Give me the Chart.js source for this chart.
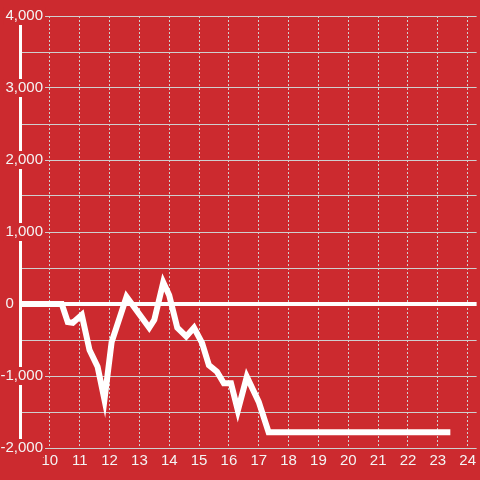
<!DOCTYPE html>
<html>
<head>
<meta charset="utf-8">
<script src="https://cdn.jsdelivr.net/npm/chart.js@4"></script>
<style>
  html, body { margin: 0; padding: 0; background: #cc2a2f; }
  canvas { display: block; }
</style>
</head>
<body>
<canvas id="chart" width="480" height="480"></canvas>
<script>
var hours = [9, 10.4, 10.6, 10.77, 11.07, 11.33, 11.6, 11.83, 12.07, 12.57, 13.33, 13.5, 13.8, 14.0,
  14.27, 14.57, 14.83, 15.1, 15.33, 15.6, 15.83, 16.07, 16.3, 16.6, 17.0, 17.33, 23.42];
var values = [0, 0, -250, -260, -150, -640, -870, -1330, -530, 100, -330, -220, 300, 120,
  -330, -450, -330, -540, -850, -940, -1100, -1100, -1480, -1010, -1360, -1780, -1780];
var hourTicks = [10, 11, 12, 13, 14, 15, 16, 17, 18, 19, 20, 21, 22, 23, 24];

var red = "#cc2a2f";
var gridGrey = "#cfcfcf";
var textColor = "#f4f4f4";
var font = { family: "'Liberation Sans', Arial, sans-serif", size: 15 };

function isLabelled(v) {
  return v % 1000 === 0;
}

var ctx = document.getElementById("chart");
var myChart = new Chart(ctx, {
  type: "line",
  data: {
    datasets: [
      {
        data: hours.map(function (h, i) {
          return { x: h, y: values[i] };
        }),
        borderColor: "#ffffff",
        borderWidth: 6,
        pointRadius: 0,
        tension: 0,
        fill: false,
      },
    ],
  },
  options: {
    responsive: false,
    animation: false,
    layout: { padding: { left: 0, top: 16, right: 0, bottom: 0 } },
    plugins: {
      legend: { display: false },
      tooltip: { enabled: false },
    },
    scales: {
      x: {
        type: "linear",
        min: 9,
        max: 24.3,
        afterBuildTicks: function (scale) {
          scale.ticks = hourTicks.map(function (v) {
            return { value: v };
          });
        },
        afterFit: function (scale) {
          scale.height = 32;
        },
        border: { display: false, dash: [2, 2] },
        grid: {
          color: gridGrey,
          lineWidth: 1,
          drawTicks: false,
        },
        ticks: {
          color: textColor,
          font: font,
          padding: 4,
          maxRotation: 0,
          autoSkip: false,
        },
      },
      y: {
        min: -2000,
        max: 4000,
        afterFit: function (scale) {
          scale.width = 20;
        },
        border: { display: true, color: "#ffffff", width: 3 },
        grid: {
          drawTicks: false,
          color: function (c) {
            return c.tick && c.tick.value === 0 ? "#ffffff" : gridGrey;
          },
          lineWidth: function (c) {
            return c.tick && c.tick.value === 0 ? 4 : 1;
          },
        },
        ticks: {
          stepSize: 500,
          mirror: true,
          crossAlign: "far",
          color: textColor,
          font: font,
          padding: -19.5,
          callback: function (v) {
            if (!isLabelled(v)) return "";
            if (v === 0) return "0\u00a0\u00a0\u00a0\u00a0\u00a0\u00a0\u00a0";
            return v.toLocaleString("en-US");
          },
          showLabelBackdrop: function (c) {
            return isLabelled(c.tick.value) && c.tick.value !== 0;
          },
          backdropColor: red,
          backdropPadding: { top: 0, bottom: 0, left: 2, right: 2 },
        },
      },
    },
  },
});
</script>
</body>
</html>
